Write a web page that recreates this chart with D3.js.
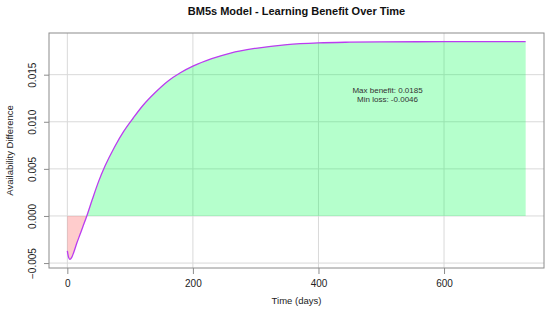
<!DOCTYPE html>
<html>
<head>
<meta charset="utf-8">
<script src="https://cdn.jsdelivr.net/npm/d3@7"></script>
<style>
  body { margin: 0; background: #fff; }
  text { font-family: "Liberation Sans", Arial, sans-serif; }
</style>
</head>
<body>
<script>
"use strict";

// values
const days = [0, 2, 4, 7, 10, 15, 20, 25, 31, 40, 50, 60, 75, 90, 105, 120, 140, 160, 180, 200, 230, 260, 300, 350, 400, 450, 500, 600, 730];
const benefit = [-0.0037, -0.0044, -0.0046, -0.0044, -0.0039, -0.0029, -0.0020, -0.0011, 0.0000, 0.0018, 0.0037, 0.0053, 0.0073, 0.0090, 0.0104, 0.0117, 0.0131, 0.0143, 0.0152, 0.0159, 0.0167, 0.0173, 0.0178, 0.0182, 0.01838, 0.01845, 0.01848, 0.0185, 0.0185];
const xTicks = [0, 200, 400, 600];
const yTicks = [-0.005, 0.000, 0.005, 0.010, 0.015];
const notes = ["Max benefit: 0.0185", "Min loss: -0.0046"];

const data = days.map((d, i) => ({ t: d, v: benefit[i] }));

const W = 550, H = 320;
const m = { left: 49, right: 6, top: 33, bottom: 52 };

let svg = d3
  .select("body")
  .append("svg")
  .attr("width", W)
  .attr("height", H);

// R style 4% padding on both axes
function pad(ext) {
  const p = (ext[1] - ext[0]) * 0.04;
  return [ext[0] - p, ext[1] + p];
}

const x = d3
  .scaleLinear()
  .domain(pad(d3.extent(days)))
  .range([m.left, W - m.right]);

const y = d3
  .scaleLinear()
  .domain(pad(d3.extent(benefit)))
  .range([H - m.bottom, m.top]);

// grid
svg
  .selectAll(".gx")
  .data(xTicks)
  .enter()
  .append("line")
  .attr("x1", d => x(d))
  .attr("x2", d => x(d))
  .attr("y1", m.top)
  .attr("y2", H - m.bottom)
  .attr("stroke", "#d9d9d9")
  .attr("stroke-width", 1);

svg
  .selectAll(".gy")
  .data(yTicks)
  .enter()
  .append("line")
  .attr("x1", m.left)
  .attr("x2", W - m.right)
  .attr("y1", d => y(d))
  .attr("y2", d => y(d))
  .attr("stroke", "#d9d9d9")
  .attr("stroke-width", 1);

// fills: green above zero, red below
const curve = d3.curveMonotoneX;

svg
  .append("clipPath")
  .attr("id", "above")
  .append("rect")
  .attr("x", m.left)
  .attr("y", m.top)
  .attr("width", W - m.left - m.right)
  .attr("height", y(0) - m.top);

svg
  .append("clipPath")
  .attr("id", "below")
  .append("rect")
  .attr("x", m.left)
  .attr("y", y(0))
  .attr("width", W - m.left - m.right)
  .attr("height", H - m.bottom - y(0));

const area = d3
  .area()
  .x(d => x(d.t))
  .y0(y(0))
  .y1(d => y(d.v))
  .curve(curve);

svg
  .append("path")
  .datum(data)
  .attr("d", area)
  .attr("clip-path", "url(#above)")
  .attr("fill", "rgba(0,255,80,0.29)");

svg
  .append("path")
  .datum(data)
  .attr("d", area)
  .attr("clip-path", "url(#below)")
  .attr("fill", "rgba(255,0,0,0.2)");

// curve
svg
  .append("path")
  .datum(data)
  .attr("d", d3.line().x(d => x(d.t)).y(d => y(d.v)).curve(curve))
  .attr("fill", "none")
  .attr("stroke", "#bb3cf0")
  .attr("stroke-width", 1.3);

// box
svg
  .append("rect")
  .attr("x", m.left)
  .attr("y", m.top)
  .attr("width", W - m.left - m.right)
  .attr("height", H - m.top - m.bottom)
  .attr("fill", "none")
  .attr("stroke", "#8c8c8c")
  .attr("stroke-width", 1);

// axes
let xAxis = svg
  .append("g")
  .attr("transform", `translate(0,${H - m.bottom})`)
  .call(d3.axisBottom(x).tickValues(xTicks).tickSize(6).tickPadding(6).tickFormat(d3.format("d")));

let yAxis = svg
  .append("g")
  .attr("transform", `translate(${m.left},0)`)
  .call(d3.axisLeft(y).tickValues(yTicks).tickSize(5).tickFormat(d3.format(".3f")));

[xAxis, yAxis].forEach(g => {
  g.select(".domain").remove();
  g.selectAll("line").attr("stroke", "#8c8c8c");
  g.selectAll("text").attr("fill", "#222").style("font-size", "10px");
});

yAxis
  .selectAll("text")
  .attr("text-anchor", "middle")
  .attr("transform", "translate(-17,0) rotate(-90)")
  .attr("x", 0)
  .attr("dy", "0.35em");

// titles
svg
  .append("text")
  .attr("x", (m.left + W - m.right) / 2)
  .attr("y", 15)
  .attr("text-anchor", "middle")
  .style("font-size", "11px")
  .style("font-weight", "bold")
  .attr("fill", "#111")
  .text("BM5s Model - Learning Benefit Over Time");

svg
  .append("text")
  .attr("x", (m.left + W - m.right) / 2)
  .attr("y", 304)
  .attr("text-anchor", "middle")
  .style("font-size", "9.5px")
  .attr("fill", "#222")
  .text("Time (days)");

svg
  .append("text")
  .attr("transform", `translate(13,${(m.top + H - m.bottom) / 2}) rotate(-90)`)
  .attr("text-anchor", "middle")
  .style("font-size", "9.5px")
  .attr("fill", "#222")
  .text("Availability Difference");

// annotation
svg
  .selectAll(".note")
  .data(notes)
  .enter()
  .append("text")
  .attr("x", x(510))
  .attr("y", (d, i) => y(0.0131) + i * 9)
  .attr("text-anchor", "middle")
  .style("font-size", "8px")
  .attr("fill", "#333")
  .text(d => d);
</script>
</body>
</html>
